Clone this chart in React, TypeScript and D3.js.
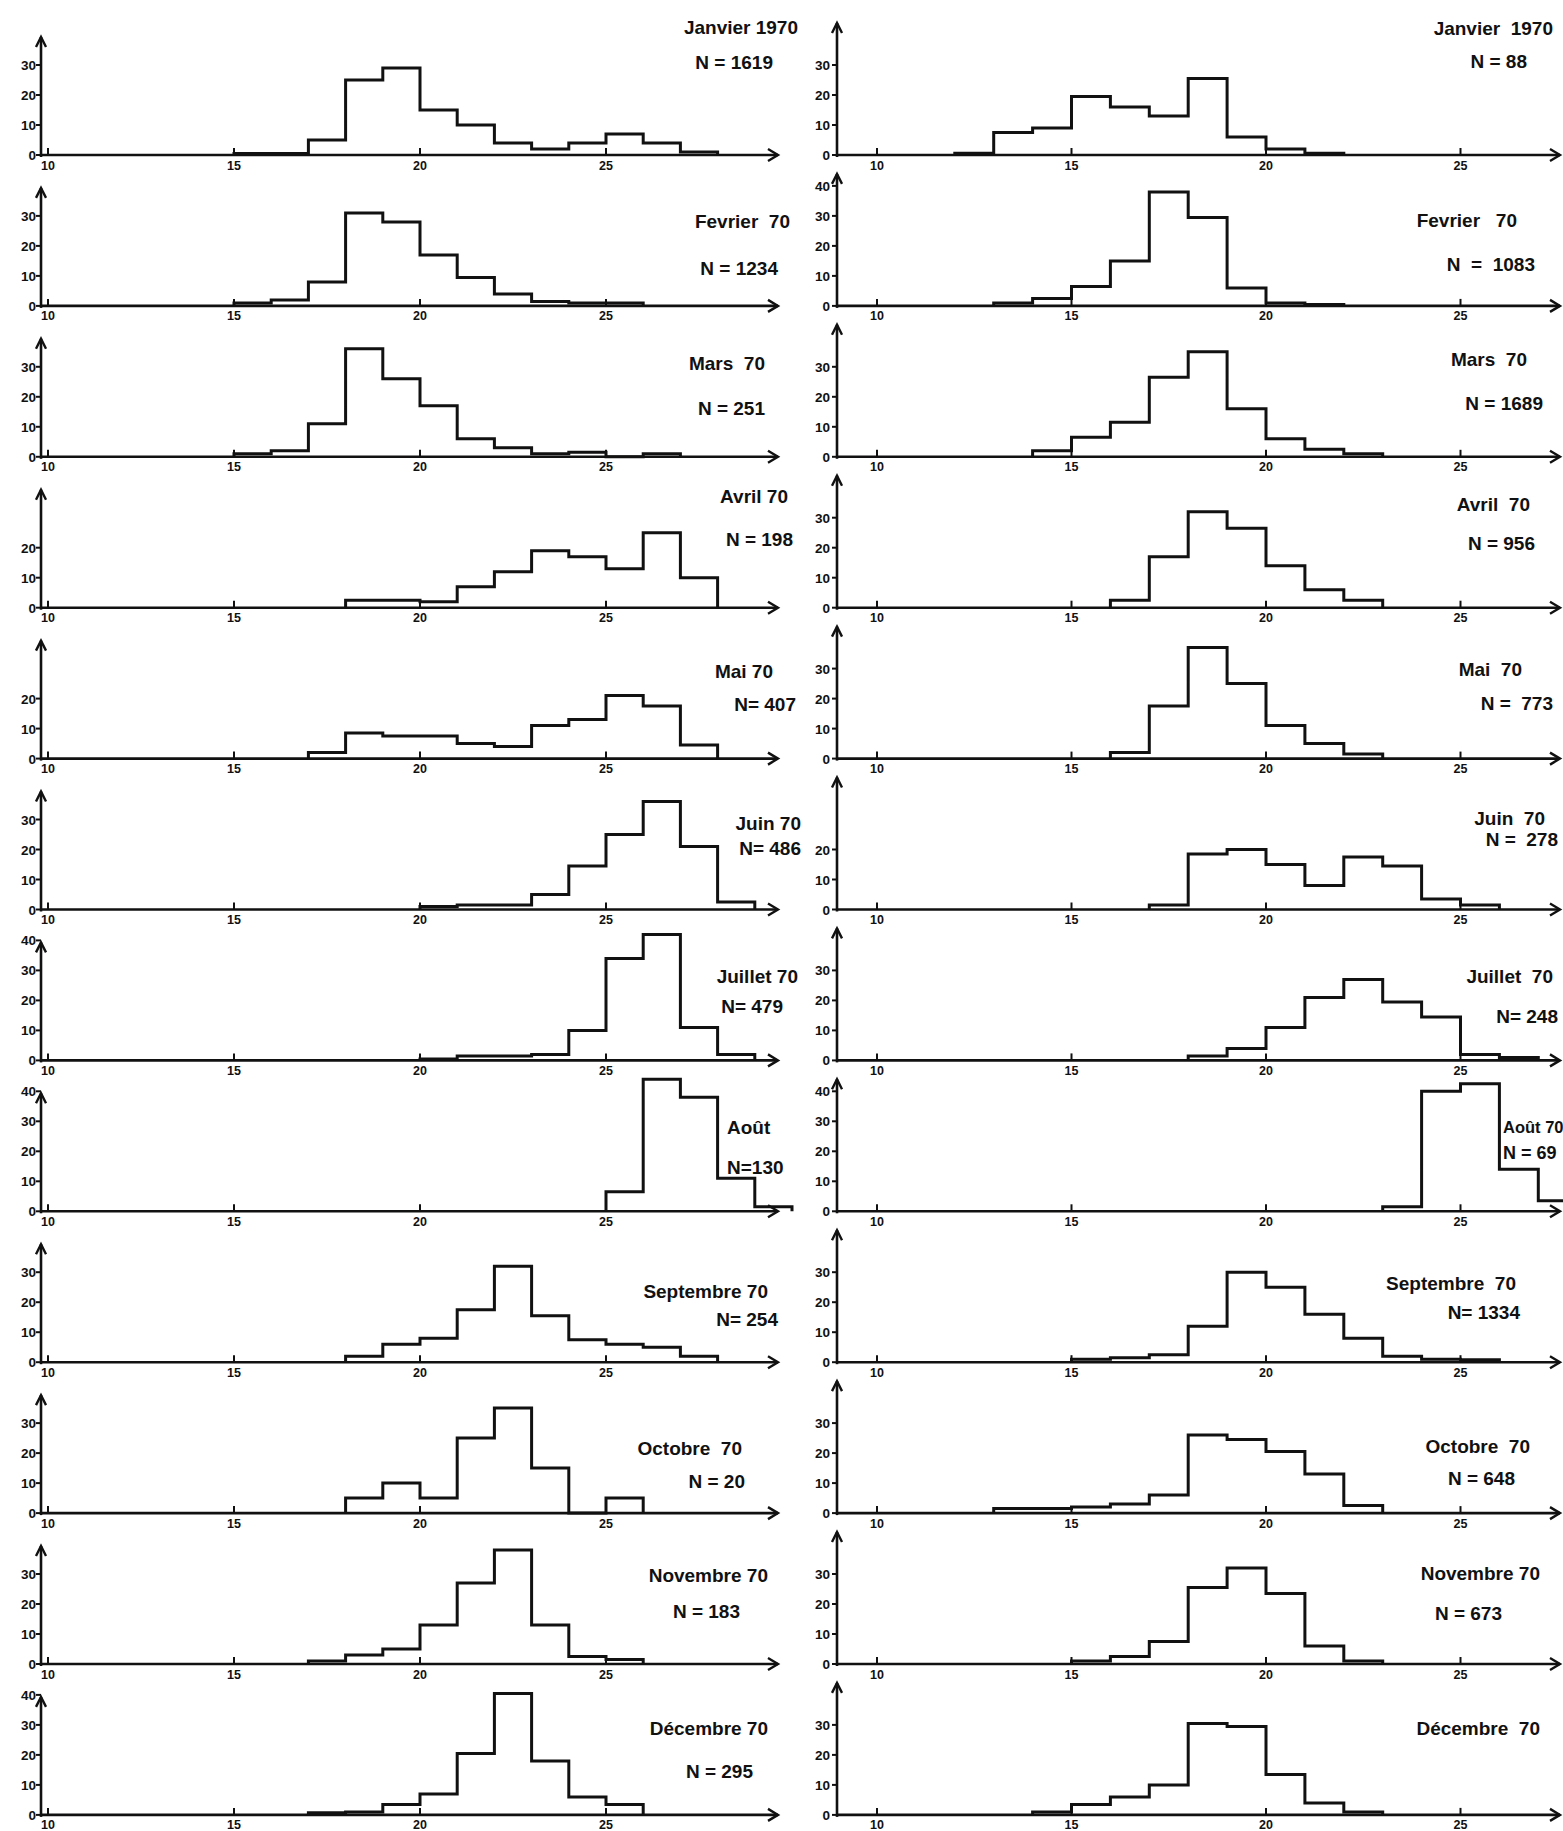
import * as d3 from "d3";

// water temperature histograms, % of observations per 1° class, 1970
const xTicks = [10, 15, 20, 25];

const leftTitles = ["Janvier 1970", "Fevrier  70", "Mars  70", "Avril 70", "Mai 70", "Juin 70", "Juillet 70", "Août", "Septembre 70", "Octobre  70", "Novembre 70", "Décembre 70"];
const leftN = ["N = 1619", "N = 1234", "N = 251", "N = 198", "N= 407", "N= 486", "N= 479", "N=130", "N= 254", "N = 20", "N = 183", "N = 295"];
const leftStart = [15, 15, 15, 18, 17, 20, 20, 25, 18, 18, 17, 17];
const leftCounts = [
  [0.5, 0.5, 5, 25, 29, 15, 10, 4, 2, 4, 7, 4, 1],
  [1, 2, 8, 31, 28, 17, 9.5, 4, 1.5, 1, 1],
  [1, 2, 11, 36, 26, 17, 6, 3, 1, 1.5, 0, 1],
  [2.5, 2.5, 2, 7, 12, 19, 17, 13, 25, 10],
  [2, 8.5, 7.5, 7.5, 5, 4, 11, 13, 21, 17.5, 4.5],
  [1, 1.5, 1.5, 5, 14.5, 25, 36, 21, 2.5],
  [0.5, 1.5, 1.5, 2, 10, 34, 42, 11, 2],
  [6.5, 44, 38, 11, 1.5],
  [2, 6, 8, 17.5, 32, 15.5, 7.5, 6, 5, 2],
  [5, 10, 5, 25, 35, 15, 0, 5],
  [1, 3, 5, 13, 27, 38, 13, 2.5, 1.5],
  [0.7, 1, 3.5, 7, 20.5, 40.5, 18, 6, 3.5],
];
const leftYTicks = [
  [0, 10, 20, 30], [0, 10, 20, 30], [0, 10, 20, 30], [0, 10, 20], [0, 10, 20], [0, 10, 20, 30],
  [0, 10, 20, 30, 40], [0, 10, 20, 30, 40], [0, 10, 20, 30], [0, 10, 20, 30], [0, 10, 20, 30], [0, 10, 20, 30, 40],
];

const rightTitles = ["Janvier  1970", "Fevrier   70", "Mars  70", "Avril  70", "Mai  70", "Juin  70", "Juillet  70", "Août 70", "Septembre  70", "Octobre  70", "Novembre 70", "Décembre  70"];
const rightN = ["N = 88", "N  =  1083", "N = 1689", "N = 956", "N =  773", "N =  278", "N= 248", "N = 69", "N= 1334", "N = 648", "N = 673", ""];
const rightStart = [12, 13, 14, 16, 16, 17, 18, 23, 15, 13, 15, 14];
const rightCounts = [
  [0.6, 7.5, 9, 19.5, 16, 13, 25.5, 6, 2, 0.6],
  [1, 2.5, 6.5, 15, 38, 29.5, 6, 1, 0.5],
  [2, 6.5, 11.5, 26.5, 35, 16, 6, 2.5, 1],
  [2.5, 17, 32, 26.5, 14, 6, 2.5],
  [2, 17.5, 37, 25, 11, 5, 1.5],
  [1.5, 18.5, 20, 15, 8, 17.5, 14.5, 3.5, 1.5],
  [1.5, 4, 11, 21, 27, 19.5, 14.5, 2, 1],
  [1.5, 40, 42.5, 14, 3.5],
  [1, 1.5, 2.5, 12, 30, 25, 16, 8, 2, 1, 0.8],
  [1.5, 1.5, 2, 3, 6, 26, 24.5, 20.5, 13, 2.5],
  [1, 2.5, 7.5, 25.5, 32, 23.5, 6, 1],
  [1, 3.5, 6, 10, 30.5, 29.5, 13.5, 4, 1],
];
const rightYTicks = [
  [0, 10, 20, 30], [0, 10, 20, 30, 40], [0, 10, 20, 30], [0, 10, 20, 30], [0, 10, 20, 30], [0, 10, 20],
  [0, 10, 20, 30], [0, 10, 20, 30, 40], [0, 10, 20, 30], [0, 10, 20, 30], [0, 10, 20, 30], [0, 10, 20, 30],
];

// label placement: [x, dy from baseline, anchor, font size]
type Pos = [number, number, string, number];
const leftTitlePos: Pos[] = [
  [798, -121, "end", 19], [790, -78, "end", 19], [765, -87, "end", 19], [788, -105, "end", 19], [773, -81, "end", 19], [801, -80, "end", 19],
  [798, -77, "end", 19], [727, -77, "start", 19], [768, -64, "end", 19], [742, -58, "end", 19], [768, -82, "end", 19], [768, -80, "end", 19],
];
const leftNPos: Pos[] = [
  [773, -86, "end", 19], [778, -31, "end", 19], [765, -42, "end", 19], [793, -62, "end", 19], [796, -48, "end", 19], [801, -55, "end", 19],
  [783, -47, "end", 19], [727, -37, "start", 19], [778, -36, "end", 19], [745, -25, "end", 19], [740, -46, "end", 19], [753, -37, "end", 19],
];
const rightTitlePos: Pos[] = [
  [1553, -120, "end", 19], [1517, -79, "end", 19], [1527, -91, "end", 19], [1530, -97, "end", 19], [1522, -83, "end", 19], [1545, -85, "end", 19],
  [1553, -77, "end", 19], [1503, -78, "start", 16.5], [1516, -72, "end", 19], [1530, -60, "end", 19], [1540, -84, "end", 19], [1540, -80, "end", 19],
];
const rightNPos: Pos[] = [
  [1527, -87, "end", 19], [1535, -35, "end", 19], [1543, -47, "end", 19], [1535, -58, "end", 19], [1553, -49, "end", 19], [1558, -64, "end", 19],
  [1558, -37, "end", 19], [1503, -52, "start", 18], [1520, -43, "end", 19], [1515, -28, "end", 19], [1502, -44, "end", 19], [1540, -37, "end", 19],
];

const W = 1563;
const H = 1831;
const ROW0 = 155;
const ROW_STEP = 150.9;
const PX_PER_10 = 30;

const columns = [
  { axisX: 41, x10: 48, ppu: 37.2, end: 778, top: 118, labelX: 36, titles: leftTitles, ns: leftN, starts: leftStart, counts: leftCounts, yTicks: leftYTicks, tPos: leftTitlePos, nPos: leftNPos },
  { axisX: 837, x10: 877, ppu: 38.9, end: 1560, top: 132, labelX: 830, titles: rightTitles, ns: rightN, starts: rightStart, counts: rightCounts, yTicks: rightYTicks, tPos: rightTitlePos, nPos: rightNPos },
];

const ink = "#111";
const font = "'Liberation Sans', Arial, sans-serif";

function Panel({ c, i }: { c: (typeof columns)[number]; i: number }) {
  const b = ROW0 + i * ROW_STEP;
  const x = d3.scaleLinear().domain([10, 25]).range([c.x10, c.x10 + 15 * c.ppu]);
  const y = d3.scaleLinear().domain([0, 10]).range([b, b - PX_PER_10]);
  const vals = c.counts[i];
  const lo = c.starts[i];
  const pts: [number, number][] = [[lo, 0]];
  vals.forEach((v, k) => pts.push([lo + k, v]));
  pts.push([lo + vals.length, 0]);
  const line = d3
    .line<[number, number]>()
    .x((d) => x(d[0]))
    .y((d) => y(d[1]))
    .curve(d3.curveStepAfter);
  const topY = b - c.top;
  const tp = c.tPos[i];
  const np = c.nPos[i];
  return (
    <g>
      {/* axes */}
      <line x1={c.axisX} x2={c.end} y1={b} y2={b} stroke={ink} strokeWidth={2.6} />
      <path d={`M${c.end - 10},${b - 6}L${c.end},${b}L${c.end - 10},${b + 6}`} fill="none" stroke={ink} strokeWidth={2.4} />
      <line x1={c.axisX} x2={c.axisX} y1={b + 2} y2={topY} stroke={ink} strokeWidth={2.6} />
      <path d={`M${c.axisX - 5},${topY + 10}L${c.axisX},${topY}L${c.axisX + 5},${topY + 10}`} fill="none" stroke={ink} strokeWidth={2.4} />
      {/* x ticks */}
      {xTicks.map((t) => (
        <g key={t}>
          <line x1={x(t)} x2={x(t)} y1={b} y2={b - 7} stroke={ink} strokeWidth={2} />
          <text x={x(t)} y={b + 14.5} textAnchor="middle" fontSize={12.5} fontWeight="bold" fontFamily={font} fill={ink}>
            {t}
          </text>
        </g>
      ))}
      {/* y ticks */}
      {c.yTicks[i].map((t) => (
        <g key={t}>
          <line x1={c.axisX - 5} x2={c.axisX} y1={y(t)} y2={y(t)} stroke={ink} strokeWidth={2} />
          <text x={c.labelX} y={y(t) + 5} textAnchor="end" fontSize={13.5} fontWeight="bold" fontFamily={font} fill={ink}>
            {t}
          </text>
        </g>
      ))}
      {/* histogram */}
      <path d={line(pts) ?? ""} fill="none" stroke={ink} strokeWidth={3} />
      {/* labels */}
      <text x={tp[0]} y={b + tp[1]} textAnchor={tp[2] as any} fontSize={tp[3]} fontWeight="bold" fontFamily={font} fill={ink} style={{ whiteSpace: "pre" }}>
        {c.titles[i]}
      </text>
      {c.ns[i] && (
        <text x={np[0]} y={b + np[1]} textAnchor={np[2] as any} fontSize={np[3]} fontWeight="bold" fontFamily={font} fill={ink} style={{ whiteSpace: "pre" }}>
          {c.ns[i]}
        </text>
      )}
    </g>
  );
}

export default function App() {
  return (
    <svg width={W} height={H} style={{ position: "absolute", left: 0, top: 0, background: "#fff" }}>
      <rect width={W} height={H} fill="#fff" />
      {columns.map((c, ci) => (
        <g key={ci}>
          {c.counts.map((_, i) => (
            <Panel key={i} c={c} i={i} />
          ))}
        </g>
      ))}
    </svg>
  );
}
